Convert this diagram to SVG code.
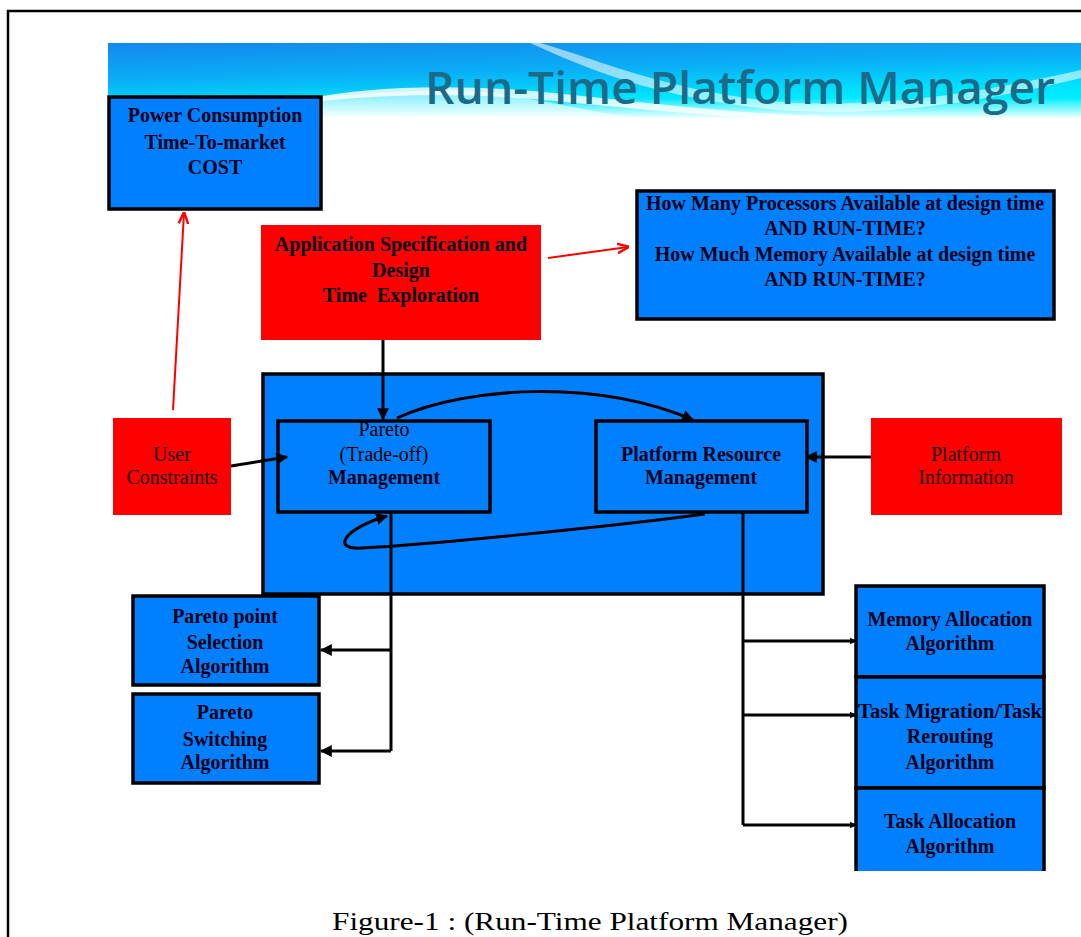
<svg xmlns="http://www.w3.org/2000/svg" width="1081" height="937" viewBox="0 0 1081 937">
<defs>
<linearGradient id="bannerGrad" x1="0" y1="0" x2="0.35" y2="1">
<stop offset="0" stop-color="#1488ee"/>
<stop offset="0.45" stop-color="#0aaef6"/>
<stop offset="0.8" stop-color="#00e2fe"/>
<stop offset="1" stop-color="#00f0ff"/>
</linearGradient>
<linearGradient id="fadeGrad" x1="0" y1="0" x2="0" y2="1">
<stop offset="0" stop-color="#ffffff" stop-opacity="0"/>
<stop offset="1" stop-color="#ffffff" stop-opacity="1"/>
</linearGradient>
<marker id="ah" viewBox="0 0 10 10" refX="9" refY="5" markerWidth="12" markerHeight="12" markerUnits="userSpaceOnUse" orient="auto">
<path d="M0,0 L10,5 L0,10 z" fill="#000"/>
</marker>
<marker id="ahs" viewBox="0 0 10 10" refX="9" refY="5" markerWidth="7" markerHeight="9" markerUnits="userSpaceOnUse" orient="auto">
<path d="M0,0 L10,5 L0,10 z" fill="#000"/>
</marker>
<marker id="ahr" viewBox="0 0 10 10" refX="9" refY="5" markerWidth="12" markerHeight="12" markerUnits="userSpaceOnUse" orient="auto">
<path d="M0,1 L10,5 L0,9" fill="none" stroke="#ff0000" stroke-width="2"/>
</marker>
</defs>
<style>
.blue{fill:#0080ff;stroke:#000;stroke-width:3.5}
.red{fill:#ff0000;stroke:none}
.t{font-family:"Liberation Serif","Times New Roman",serif;font-size:20px;font-weight:bold;fill:#00001a;text-anchor:middle}
.tr{font-family:"Liberation Serif","Times New Roman",serif;font-size:20px;fill:#1a0000;text-anchor:middle}
.c{fill:none;stroke:#000;stroke-width:3}
.cr{fill:none;stroke:#ff0000;stroke-width:2}
</style>
<rect x="0" y="0" width="1081" height="937" fill="#ffffff"/>
<!-- frame -->
<path d="M8 937 L8 11 L1081 11" fill="none" stroke="#000" stroke-width="2.5"/>
<!-- banner -->
<g id="banner">
<rect x="108" y="43" width="973" height="75" fill="url(#bannerGrad)"/>
<path d="M540 43 C600 60 650 85 760 100 C850 110 950 100 1081 70 L1081 78 C950 110 850 118 760 108 C650 95 590 70 530 43 z" fill="#ffffff" opacity="0.55"/>
<path d="M300 100 C360 88 430 84 520 90 C600 96 700 112 820 116 L820 120 C700 118 600 104 520 98 C430 92 360 96 300 104 z" fill="#ffffff" opacity="0.8"/>
<path d="M108 112 C250 104 350 92 450 90 C520 92 560 108 640 118 L108 118 z" fill="#ffffff" opacity="0.6"/>
<rect x="108" y="98" width="973" height="21" fill="url(#fadeGrad)"/>
<text x="740" y="104" font-family="'Open Sans','Liberation Sans',sans-serif" font-size="46" font-weight="600" fill="#1a6a88" text-anchor="middle" textLength="630" lengthAdjust="spacingAndGlyphs">Run-Time Platform Manager</text>
</g>
<!-- container -->
<g id="rtpm">
<rect x="263" y="374" width="560" height="220" class="blue"/>
</g>
<g id="power">
<rect x="109" y="97" width="212" height="112" class="blue"/>
<text class="t" x="215" y="122">Power Consumption</text>
<text class="t" x="215" y="149">Time-To-market</text>
<text class="t" x="215" y="174">COST</text>
</g>
<g id="appspec">
<rect x="261" y="225" width="280" height="115" class="red"/>
<text class="t" x="401" y="251" fill="#1a0000">Application Specification and</text>
<text class="t" x="401" y="277" fill="#1a0000">Design</text>
<text class="t" x="401" y="302" fill="#1a0000">Time&#160; Exploration</text>
</g>
<g id="howmany">
<rect x="637" y="191" width="417" height="128" class="blue"/>
<text class="t" x="845" y="210">How Many Processors Available at design time</text>
<text class="t" x="845" y="235">AND RUN-TIME?</text>
<text class="t" x="845" y="261">How Much Memory Available at design time</text>
<text class="t" x="845" y="286">AND RUN-TIME?</text>
</g>
<g id="user">
<rect x="113" y="418" width="118" height="97" class="red"/>
<text class="tr" x="172" y="461">User</text>
<text class="tr" x="172" y="484">Constraints</text>
</g>
<g id="pareto">
<rect x="278" y="421" width="212" height="91" class="blue"/>
<text class="tr" x="384" y="436" fill="#00001a">Pareto</text>
<text class="tr" x="384" y="461" fill="#00001a">(Trade-off)</text>
<text class="t" x="384" y="484">Management</text>
</g>
<g id="prm">
<rect x="596" y="421" width="211" height="91" class="blue"/>
<text class="t" x="701" y="461">Platform Resource</text>
<text class="t" x="701" y="484">Management</text>
</g>
<g id="platinfo">
<rect x="871" y="418" width="191" height="97" class="red"/>
<text class="tr" x="966" y="461">Platform</text>
<text class="tr" x="966" y="484">Information</text>
</g>
<g id="ppsel">
<rect x="133" y="596" width="186" height="89" class="blue"/>
<text class="t" x="225" y="623">Pareto point</text>
<text class="t" x="225" y="649">Selection</text>
<text class="t" x="225" y="673">Algorithm</text>
</g>
<g id="psw">
<rect x="133" y="694" width="186" height="89" class="blue"/>
<text class="t" x="225" y="719">Pareto</text>
<text class="t" x="225" y="746">Switching</text>
<text class="t" x="225" y="769">Algorithm</text>
</g>
<g id="memalloc">
<rect x="856" y="586" width="188" height="91" class="blue"/>
<text class="t" x="950" y="626">Memory Allocation</text>
<text class="t" x="950" y="650">Algorithm</text>
</g>
<g id="taskmig">
<rect x="856" y="677" width="188" height="111" class="blue"/>
<text class="t" x="950" y="718" textLength="184" lengthAdjust="spacingAndGlyphs">Task Migration/Task</text>
<text class="t" x="950" y="743">Rerouting</text>
<text class="t" x="950" y="769">Algorithm</text>
</g>
<g id="taskalloc">
<rect x="856" y="788" width="188" height="83" fill="#0080ff"/>
<path d="M856 871 L856 788 L1044 788 L1044 871" fill="none" stroke="#000" stroke-width="3.5"/>
<text class="t" x="950" y="828">Task Allocation</text>
<text class="t" x="950" y="853">Algorithm</text>
</g>
<g id="connectors">
<path class="cr" d="M173 410 L184 213" marker-end="url(#ahr)"/>
<path class="cr" d="M548 258 L628 247" marker-end="url(#ahr)"/>
<path class="c" d="M383 340 L383 419" stroke-width="4" marker-end="url(#ah)"/>
<path class="c" d="M231 466 L287 457" marker-end="url(#ah)"/>
<path class="c" d="M397 418 C470 385 600 380 693 420" stroke-width="3.5" marker-end="url(#ah)"/>
<path class="c" d="M871 457 L806 457" marker-end="url(#ah)"/>
<path class="c" d="M705 514 C600 528 420 545 362 548 C330 550 345 528 387 516" stroke-width="3.5" marker-end="url(#ah)"/>
<path class="c" d="M391 513 L391 751"/>
<path class="c" d="M391 650 L321 650" marker-end="url(#ah)"/>
<path class="c" d="M391 751 L321 751" marker-end="url(#ah)"/>
<path class="c" d="M743 513 L743 825"/>
<path class="c" d="M743 641 L856 641" marker-end="url(#ahs)"/>
<path class="c" d="M743 715 L856 715" marker-end="url(#ahs)"/>
<path class="c" d="M743 825 L856 825" marker-end="url(#ahs)"/>
</g>
<text x="590" y="930" font-family="'Liberation Serif','Times New Roman',serif" font-size="26" fill="#000" text-anchor="middle" textLength="516" lengthAdjust="spacingAndGlyphs">Figure-1 : (Run-Time Platform Manager)</text>
</svg>
